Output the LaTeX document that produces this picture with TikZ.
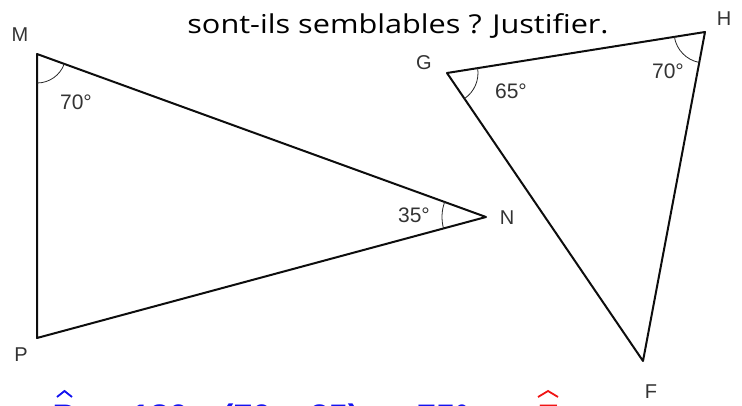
\documentclass[tikz,border=0pt]{standalone}
\usepackage{fontspec}
\setmainfont{Liberation Sans}
\newfontfamily\titlefont{Open Sans}
\usetikzlibrary{angles}
\definecolor{ansblue}{RGB}{20,20,240}
\definecolor{ansred}{RGB}{240,20,20}
\tikzset{
  tri/.style={line width=2pt, line join=round, black!95},
  arcmark/.style={draw, line width=0.8pt, black!85},
  vlabel/.style={font=\fontsize{20}{20}\selectfont, text=black!80, inner sep=0pt},
  dlabel/.style={font=\fontsize{21}{21}\selectfont, text=black!80, inner sep=0pt},
  answer/.style={font=\fontsize{34}{34}\selectfont\bfseries, text=ansblue, inner sep=0pt, anchor=base west},
  hatmark/.style={line width=1.8pt, line join=miter}
}
\begin{document}
\begin{tikzpicture}[x=1pt,y=1pt]
\useasboundingbox (0,0) rectangle (742,405);
% title
\node[font=\titlefont\fontsize{26}{26}\selectfont, anchor=base, inner sep=0pt] (title) at (398,371) {\scalebox{1.18}[1]{sont-ils semblables ? Justifier.}};
% triangle MNP
\coordinate (M) at (37,351);
\coordinate (P) at (37,67);
\coordinate (N) at (486,188);
\draw[tri] (M) -- (N) -- (P) -- cycle;
\pic[arcmark, angle radius=29pt] {angle=P--M--N};
\pic[arcmark, angle radius=44pt] {angle=M--N--P};
\node[vlabel] (lM) at (20,370) {M};
\node[vlabel] (lP) at (21,50) {P};
\node[vlabel] (lN) at (507,187) {N};
\node[dlabel] (aM) at (76,303) {70°};
\node[dlabel] (aN) at (414,190) {35°};
% triangle GHF
\coordinate (G) at (447,332);
\coordinate (H) at (705,373);
\coordinate (F) at (643,44);
\draw[tri] (G) -- (H) -- (F) -- cycle;
\pic[arcmark, angle radius=31pt] {angle=F--G--H};
\pic[arcmark, angle radius=31pt] {angle=G--H--F};
\node[vlabel] (lG) at (424,342) {G};
\node[vlabel] (lH) at (724,386) {H};
\node[vlabel] (lF) at (651,13) {F};
\node[dlabel] (aG) at (511,314) {65°};
\node[dlabel] (aH) at (668,334) {70°};
% answer line (cut off at the bottom edge, as in the reference)
\node[answer, anchor=base] (ansP) at (64,-23) {P};
\draw[hatmark, ansblue] (57,8) -- (64.5,14) -- (72,8);
\node[answer] (eq1) at (92,-23) {=};
\node[answer] (n180) at (131,-23) {180};
\node[answer] (minus) at (196,-23) {−};
\node[answer] (paren) at (222,-23) {(70 + 35)};
\node[answer] (eq2) at (377,-23) {=};
\node[answer] (n75) at (417,-23) {75°};
\node[answer, anchor=base, text=ansred] (ansF) at (548,-23) {F};
\draw[hatmark, ansred] (538,8) -- (548,14) -- (558,8);
\end{tikzpicture}
\end{document}
